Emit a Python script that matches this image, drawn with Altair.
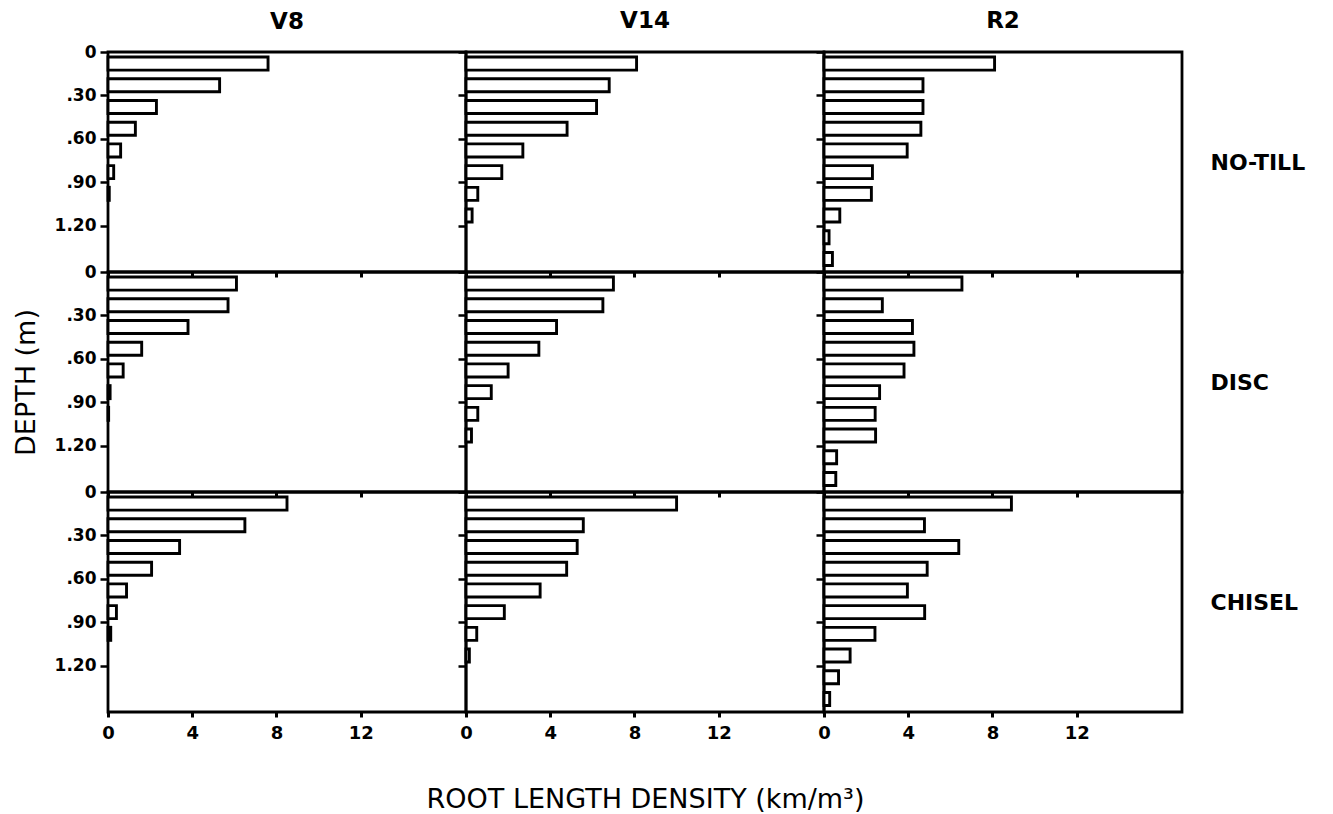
import altair as alt
import pandas as pd

# ---- data -------------------------------------------------------------
stages = ["V8", "V14", "R2"]
tillages = ["NO-TILL", "DISC", "CHISEL"]
depth_top = [0.0, 0.15, 0.30, 0.45, 0.60, 0.75, 0.90, 1.05, 1.20, 1.35]  # m

v8_notill = [7.6, 5.3, 2.3, 1.3, 0.6, 0.27, 0.06, 0.0, 0.0, 0.0]
v14_notill = [8.1, 6.8, 6.2, 4.8, 2.7, 1.7, 0.56, 0.29, 0.0, 0.0]
r2_notill = [8.1, 4.7, 4.7, 4.6, 3.95, 2.3, 2.25, 0.75, 0.24, 0.4]

v8_disc = [6.1, 5.7, 3.8, 1.6, 0.72, 0.1, 0.03, 0.0, 0.0, 0.0]
v14_disc = [7.0, 6.5, 4.3, 3.46, 2.0, 1.2, 0.56, 0.26, 0.0, 0.0]
r2_disc = [6.55, 2.77, 4.2, 4.27, 3.8, 2.64, 2.43, 2.45, 0.6, 0.56]

v8_chisel = [8.5, 6.5, 3.4, 2.07, 0.88, 0.4, 0.13, 0.0, 0.0, 0.0]
v14_chisel = [10.0, 5.57, 5.28, 4.78, 3.52, 1.82, 0.51, 0.16, 0.0, 0.0]
r2_chisel = [8.9, 4.77, 6.4, 4.9, 3.96, 4.78, 2.42, 1.24, 0.69, 0.27]

series = {
    ("V8", "NO-TILL"): v8_notill, ("V14", "NO-TILL"): v14_notill, ("R2", "NO-TILL"): r2_notill,
    ("V8", "DISC"): v8_disc, ("V14", "DISC"): v14_disc, ("R2", "DISC"): r2_disc,
    ("V8", "CHISEL"): v8_chisel, ("V14", "CHISEL"): v14_chisel, ("R2", "CHISEL"): r2_chisel,
}

x_ticks = [0, 4, 8, 12]
y_ticks = [0.0, 0.30, 0.60, 0.90, 1.20]

FONT = "DejaVu Sans"
PW, PH = 358, 220
XS = alt.Scale(domain=[0, 17], nice=False)
YS = alt.Scale(domain=[0, 1.52], nice=False, reverse=True)


def panel(stage, till, col, row):
    vals = series[(stage, till)]
    sub = pd.DataFrame({"depth": depth_top, "rld": vals})
    sub = sub[sub["rld"] > 0]
    bottom = row == 2
    left = col == 0
    x_axis = alt.Axis(
        values=x_ticks, domain=False, grid=False, ticks=True, tickSize=5, tickWidth=3,
        tickColor="black", labels=bottom, labelFontSize=18, labelFont=FONT,
        labelFontWeight="bold", labelColor="black", labelPadding=7, labelFlush=False,
        title="ROOT LENGTH DENSITY (km/m³)" if (bottom and col == 1) else None,
        titleFont=FONT, titleFontSize=27, titleFontWeight="normal", titleColor="black",
        titlePadding=44,
    )
    y_axis = alt.Axis(
        values=y_ticks, domain=False, grid=False, tickSize=8, tickWidth=2.5,
        tickColor="black", labels=left, labelFontSize=17, labelFont=FONT,
        labelFontWeight="bold", labelColor="black", labelPadding=4,
        labelExpr="datum.value == 0 ? '0' : (datum.value < 1 ? substring(format(datum.value, '.2f'), 1) : format(datum.value, '.2f'))",
        title="DEPTH  (m)" if (left and row == 1) else None,
        titleFont=FONT, titleFontSize=27, titleFontWeight="normal", titleColor="black",
        titlePadding=14,
    )
    base = alt.Chart(sub).transform_calculate(
        zero="0", top="datum.depth + 0.035", bot="datum.depth + 0.125"
    )
    bars = base.mark_rect(fill="white", stroke="black", strokeWidth=2.9).encode(
        x=alt.X("rld:Q", scale=XS, axis=x_axis),
        x2="zero:Q",
        y=alt.Y("top:Q", scale=YS, axis=y_axis),
        y2="bot:Q",
    )
    props = dict(width=PW, height=PH)
    if row == 0:
        props["title"] = alt.TitleParams(
            text=stage, anchor="middle", fontSize=23, font=FONT, fontWeight="bold",
            color="black", offset=9 if col == 0 else 18,
        )
    if col == 2:
        label_layer = base.mark_rect(opacity=0).encode(
            x=alt.X("rld:Q", scale=XS, axis=x_axis),
            x2="zero:Q",
            y=alt.Y("top:Q", scale=YS, axis=alt.Axis(
                orient="right", domain=False, ticks=False, labels=False, grid=False,
                title=till, titleAngle=0, titleAlign="left", titleBaseline="middle",
                titleFont=FONT, titleFontSize=22, titleFontWeight="bold",
                titleColor="black", titlePadding=28,
            )),
            y2="bot:Q",
        )
        return alt.layer(bars, label_layer).resolve_axis(y="independent").properties(**props)
    return bars.properties(**props)


panels = [panel(s, t, c, r) for r, t in enumerate(tillages) for c, s in enumerate(stages)]

chart = alt.concat(*panels, columns=3, spacing=0, bounds="flush").configure_view(
    stroke="black", strokeWidth=2.8
).properties(background="white", padding={"left": 2, "top": 0, "right": 5, "bottom": 5})

chart.save("out.html", embed_options={"renderer": "svg", "actions": False})
